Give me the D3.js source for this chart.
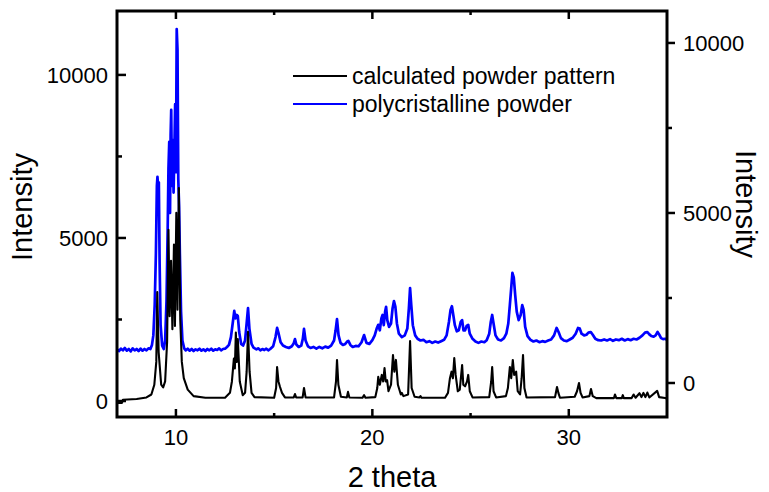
<!DOCTYPE html>
<html>
<head>
<meta charset="utf-8">
<script src="https://cdn.jsdelivr.net/npm/d3@7"></script>
<style>
  body { margin: 0; background: #fff; }
  text { font-family: "Liberation Sans", Arial, sans-serif; fill: #000; }
</style>
</head>
<body>
<div id="chart"></div>
<script>
const width = 769;
const height = 492;
const margin = { top: 11, right: 102, bottom: 75, left: 117 };

// 2 theta / intensity pairs
const calcPattern = [
  [7.0, -60], [7.25, -60], [7.3, 40], [8.0, 60], [8.5, 110], [8.75, 200], [8.9, 500], [9.0, 1200],
  [9.05, 3340], [9.12, 1500], [9.25, 500], [9.35, 420], [9.45, 600], [9.55, 1800], [9.62, 5250],
  [9.68, 2600], [9.75, 4300], [9.82, 2200], [9.9, 4800], [9.95, 2300], [10.02, 5770], [10.08, 2800],
  [10.15, 6530], [10.22, 2500], [10.3, 1200], [10.4, 700], [10.6, 350], [10.9, 150], [11.5, 100],
  [12.5, 100], [12.75, 250], [12.85, 600], [12.95, 1300], [13.0, 1000], [13.05, 2100], [13.1, 1200],
  [13.15, 1900], [13.25, 600], [13.4, 180], [13.52, 250], [13.6, 900], [13.67, 2120], [13.75, 900],
  [13.85, 250], [14.0, 120], [15.0, 100], [15.1, 400], [15.15, 1040], [15.22, 600], [15.3, 430],
  [15.4, 250], [15.55, 110], [16.0, 110], [16.06, 215], [16.12, 110], [16.45, 110], [16.52, 400],
  [16.6, 110], [18.05, 110], [18.15, 600], [18.2, 1260], [18.27, 500], [18.4, 130], [18.7, 110],
  [18.76, 280], [18.83, 110], [19.5, 100], [19.58, 180], [19.65, 100], [20.15, 120], [20.25, 400],
  [20.3, 740], [20.38, 500], [20.48, 800], [20.55, 600], [20.62, 1010], [20.68, 600], [20.75, 640],
  [20.82, 300], [20.95, 500], [21.05, 1410], [21.12, 900], [21.2, 1260], [21.3, 500], [21.45, 200],
  [21.5, 250], [21.58, 150], [21.82, 200], [21.92, 1840], [22.0, 400], [22.15, 130], [22.4, 110],
  [22.45, 150], [22.5, 100], [23.7, 100], [23.85, 250], [23.95, 700], [24.03, 900], [24.1, 700],
  [24.17, 1320], [24.24, 800], [24.35, 300], [24.45, 350], [24.57, 1100], [24.63, 500], [24.72, 450],
  [24.82, 600], [24.88, 800], [24.96, 300], [25.1, 110], [25.95, 120], [26.05, 600], [26.1, 1040],
  [26.17, 300], [26.3, 110], [26.8, 150], [26.9, 400], [27.0, 1040], [27.07, 700], [27.15, 1260],
  [27.22, 800], [27.32, 900], [27.4, 300], [27.52, 200], [27.6, 700], [27.67, 1410], [27.74, 400],
  [27.85, 110], [29.3, 120], [29.4, 430], [29.47, 250], [29.55, 100], [30.3, 130], [30.42, 300],
  [30.52, 550], [30.6, 250], [30.7, 110], [31.05, 150], [31.13, 370], [31.22, 150], [31.4, 90],
  [32.3, 90], [32.35, 200], [32.42, 90], [32.7, 90], [32.75, 180], [32.8, 90], [33.2, 90],
  [33.3, 200], [33.4, 100], [33.6, 240], [33.7, 120], [33.8, 250], [33.9, 120], [34.0, 260],
  [34.1, 110], [34.5, 310], [34.6, 120], [34.9, 90], [35.0, 90]
];

const powderPattern = [
  [7.0, 990], [7.1, 940], [7.2, 1010], [7.3, 960], [7.4, 1030], [7.5, 950], [7.6, 1000], [7.7, 930],
  [7.8, 1020], [7.9, 960], [8.0, 1000], [8.1, 940], [8.2, 1010], [8.3, 950], [8.4, 1000], [8.5, 960],
  [8.6, 1020], [8.7, 1000], [8.78, 1120], [8.85, 1400], [8.92, 2300], [8.98, 3800], [9.03, 5800],
  [9.06, 6060], [9.1, 5700], [9.13, 5900], [9.17, 3500], [9.22, 1700], [9.3, 1100], [9.38, 1000],
  [9.45, 1250], [9.52, 2400], [9.58, 4500], [9.62, 6300], [9.66, 7090], [9.7, 5000], [9.73, 7300],
  [9.76, 8030], [9.8, 5800], [9.84, 7150], [9.88, 5600], [9.92, 6800], [9.96, 8200], [10.0, 6200],
  [10.04, 10410], [10.08, 9800], [10.12, 6000], [10.16, 5200], [10.2, 3800], [10.26, 2100],
  [10.33, 1250], [10.42, 1020], [10.5, 960], [10.6, 1010], [10.7, 950], [10.8, 1000], [10.9, 940],
  [11.0, 990], [11.1, 960], [11.2, 1010], [11.3, 950], [11.4, 990], [11.5, 940], [11.6, 1000],
  [11.7, 960], [11.8, 1010], [11.9, 950], [12.0, 990], [12.1, 970], [12.2, 1020], [12.3, 960],
  [12.4, 1000], [12.5, 1010], [12.6, 1060], [12.7, 1120], [12.8, 1350], [12.9, 1800], [12.97, 2120],
  [13.03, 1900], [13.1, 2000], [13.15, 1970], [13.22, 1500], [13.32, 1150], [13.42, 1100],
  [13.52, 1250], [13.6, 1750], [13.67, 2200], [13.74, 1600], [13.85, 1150], [13.95, 1040],
  [14.1, 990], [14.2, 1020], [14.3, 960], [14.4, 1000], [14.5, 970], [14.6, 1010], [14.7, 960],
  [14.8, 1000], [14.95, 1080], [15.07, 1350], [15.15, 1620], [15.23, 1450], [15.33, 1200],
  [15.45, 1100], [15.6, 1060], [15.75, 1030], [15.9, 1080], [16.0, 1170], [16.06, 1290],
  [16.13, 1130], [16.25, 1060], [16.38, 1100], [16.46, 1300], [16.52, 1590], [16.6, 1250],
  [16.72, 1080], [16.85, 1030], [17.0, 1060], [17.15, 1010], [17.3, 1060], [17.45, 1020],
  [17.6, 1070], [17.75, 1040], [17.9, 1100], [18.05, 1250], [18.13, 1550], [18.2, 1880],
  [18.28, 1400], [18.38, 1180], [18.5, 1120], [18.62, 1150], [18.72, 1220], [18.78, 1240],
  [18.88, 1120], [19.0, 1060], [19.15, 1090], [19.3, 1080], [19.45, 1200], [19.58, 1410],
  [19.7, 1180], [19.85, 1150], [20.0, 1260], [20.12, 1400], [20.22, 1600], [20.3, 1710],
  [20.38, 1550], [20.46, 1900], [20.52, 2000], [20.58, 1700], [20.65, 2100], [20.7, 2240],
  [20.76, 1850], [20.85, 1650], [20.95, 1750], [21.03, 2200], [21.1, 2410], [21.17, 2250],
  [21.25, 1750], [21.35, 1450], [21.5, 1350], [21.65, 1400], [21.78, 1600], [21.86, 2200],
  [21.92, 2790], [21.98, 2300], [22.06, 1700], [22.18, 1400], [22.3, 1300], [22.45, 1250],
  [22.6, 1270], [22.75, 1200], [22.9, 1230], [23.05, 1180], [23.2, 1220], [23.35, 1190],
  [23.5, 1230], [23.65, 1270], [23.78, 1400], [23.9, 1800], [23.98, 2150], [24.05, 2260],
  [24.12, 2000], [24.2, 1700], [24.3, 1520], [24.4, 1550], [24.5, 1800], [24.57, 1850],
  [24.64, 1550], [24.72, 1550], [24.8, 1680], [24.88, 1710], [24.96, 1450], [25.1, 1300],
  [25.25, 1220], [25.4, 1180], [25.55, 1220], [25.7, 1200], [25.82, 1260], [25.95, 1450],
  [26.03, 1800], [26.1, 2000], [26.17, 1750], [26.27, 1400], [26.4, 1280], [26.55, 1250],
  [26.7, 1320], [26.82, 1450], [26.92, 1750], [27.0, 2300], [27.07, 2800], [27.13, 3240],
  [27.2, 3100], [27.27, 2600], [27.35, 2100], [27.45, 1850], [27.55, 2000], [27.63, 2290],
  [27.7, 2150], [27.78, 1650], [27.9, 1380], [28.05, 1270], [28.2, 1220], [28.35, 1250],
  [28.5, 1200], [28.65, 1230], [28.8, 1210], [28.95, 1250], [29.1, 1280], [29.25, 1400],
  [29.38, 1620], [29.48, 1500], [29.6, 1320], [29.75, 1250], [29.9, 1230], [30.05, 1280],
  [30.2, 1330], [30.35, 1450], [30.47, 1620], [30.56, 1600], [30.65, 1450], [30.78, 1400],
  [30.9, 1420], [31.0, 1480], [31.12, 1500], [31.22, 1420], [31.35, 1300], [31.5, 1260],
  [31.65, 1250], [31.8, 1280], [31.95, 1250], [32.1, 1290], [32.25, 1240], [32.4, 1280],
  [32.55, 1260], [32.7, 1300], [32.85, 1250], [33.0, 1290], [33.15, 1260], [33.3, 1300],
  [33.45, 1280], [33.6, 1330], [33.75, 1400], [33.88, 1480], [34.0, 1500], [34.1, 1430],
  [34.2, 1380], [34.32, 1360], [34.42, 1400], [34.52, 1500], [34.6, 1430], [34.7, 1320],
  [34.8, 1290], [34.9, 1300], [35.0, 1270]
];

const xMajorTicks = [10, 20, 30];
const xMinorTicks = [15, 25];
const yMajorTicks = [0, 5000, 10000];
const yMinorTicks = [2500, 7500];
const legendLabels = ["calculated powder pattern", "polycristalline powder"];
const seriesColors = ["#000000", "#0000ff"];

const innerW = width - margin.left - margin.right;
const innerH = height - margin.top - margin.bottom;

const svg = d3.select("#chart").append("svg")
    .attr("width", width)
    .attr("height", height);
const g = svg.append("g")
    .attr("transform", `translate(${margin.left},${margin.top})`);

const x = d3.scaleLinear().domain([7, 35]).range([0, innerW]);
const yLeft = d3.scaleLinear().domain([-490, 11960]).range([innerH, 0]);
const yRight = d3.scaleLinear().domain([-1000, 10940]).range([innerH, 0]);

g.append("clipPath").attr("id", "clip")
  .append("rect").attr("width", innerW).attr("height", innerH);

// data lines
const lineCalc = d3.line().x(d => x(d[0])).y(d => yLeft(d[1]));
const linePowder = d3.line().x(d => x(d[0])).y(d => yRight(d[1]));

g.append("path")
    .datum(powderPattern)
    .attr("clip-path", "url(#clip)")
    .attr("fill", "none")
    .attr("stroke", seriesColors[1])
    .attr("stroke-width", 2.7)
    .attr("stroke-linejoin", "round")
    .attr("d", linePowder);

g.append("path")
    .datum(calcPattern)
    .attr("clip-path", "url(#clip)")
    .attr("fill", "none")
    .attr("stroke", seriesColors[0])
    .attr("stroke-width", 2.1)
    .attr("stroke-linejoin", "round")
    .attr("d", lineCalc);

// axes: bottom and top ticks point inward
function xAxisTicks(sel, vals, len, dir) {
  sel.selectAll(null).data(vals).enter().append("line")
    .attr("x1", d => x(d)).attr("x2", d => x(d))
    .attr("y1", 0).attr("y2", dir * len)
    .attr("stroke", "#000").attr("stroke-width", 2.5);
}
const bottomAxis = g.append("g").attr("transform", `translate(0,${innerH})`);
xAxisTicks(bottomAxis, xMajorTicks, 8, -1);
xAxisTicks(bottomAxis, xMinorTicks, 4, -1);
bottomAxis.selectAll(".xl").data(xMajorTicks).enter().append("text")
    .attr("x", d => x(d))
    .attr("y", 28)
    .attr("text-anchor", "middle")
    .attr("font-size", "22px")
    .text(d => d);

const topAxis = g.append("g");
xAxisTicks(topAxis, xMajorTicks, 8, 1);
xAxisTicks(topAxis, xMinorTicks, 4, 1);

// left axis (ticks inward)
const leftAxis = g.append("g");
leftAxis.selectAll(".lt").data(yMajorTicks).enter().append("line")
    .attr("x1", 0).attr("x2", 9)
    .attr("y1", d => yLeft(d)).attr("y2", d => yLeft(d))
    .attr("stroke", "#000").attr("stroke-width", 2.5);
leftAxis.selectAll(".lm").data(yMinorTicks).enter().append("line")
    .attr("x1", 0).attr("x2", 5)
    .attr("y1", d => yLeft(d)).attr("y2", d => yLeft(d))
    .attr("stroke", "#000").attr("stroke-width", 2.5);
leftAxis.selectAll(".ll").data(yMajorTicks).enter().append("text")
    .attr("x", -9)
    .attr("y", d => yLeft(d))
    .attr("dy", "0.35em")
    .attr("text-anchor", "end")
    .attr("font-size", "22px")
    .text(d => d);

// right axis (ticks outward)
const rightAxis = g.append("g").attr("transform", `translate(${innerW},0)`);
rightAxis.selectAll(".rt").data(yMajorTicks).enter().append("line")
    .attr("x1", 0).attr("x2", 8)
    .attr("y1", d => yRight(d)).attr("y2", d => yRight(d))
    .attr("stroke", "#000").attr("stroke-width", 2.5);
rightAxis.selectAll(".rm").data(yMinorTicks).enter().append("line")
    .attr("x1", 0).attr("x2", 5)
    .attr("y1", d => yRight(d)).attr("y2", d => yRight(d))
    .attr("stroke", "#000").attr("stroke-width", 2.5);
rightAxis.selectAll(".rl").data(yMajorTicks).enter().append("text")
    .attr("x", 16)
    .attr("y", d => yRight(d))
    .attr("dy", "0.35em")
    .attr("text-anchor", "start")
    .attr("font-size", "22px")
    .text(d => d);

// frame
g.append("rect")
    .attr("width", innerW)
    .attr("height", innerH)
    .attr("fill", "none")
    .attr("stroke", "#000")
    .attr("stroke-width", 3);

// axis titles
svg.append("text")
    .attr("x", margin.left + innerW / 2)
    .attr("y", 487)
    .attr("text-anchor", "middle")
    .attr("font-size", "29px")
    .text("2 theta");

svg.append("text")
    .attr("transform", "translate(32,207) rotate(-90)")
    .attr("text-anchor", "middle")
    .attr("font-size", "29px")
    .text("Intensity");

svg.append("text")
    .attr("transform", "translate(736,204) rotate(90)")
    .attr("text-anchor", "middle")
    .attr("font-size", "29px")
    .text("Intensity");

// legend
const legend = svg.append("g");
legendLabels.forEach((lab, i) => {
  const ly = 76 + i * 28;
  legend.append("line")
      .attr("x1", 293).attr("x2", 347)
      .attr("y1", ly).attr("y2", ly)
      .attr("stroke", seriesColors[i])
      .attr("stroke-width", 2);
  legend.append("text")
      .attr("x", 352)
      .attr("y", ly)
      .attr("dy", "0.35em")
      .attr("font-size", "23px")
      .text(lab);
});
</script>
</body>
</html>
